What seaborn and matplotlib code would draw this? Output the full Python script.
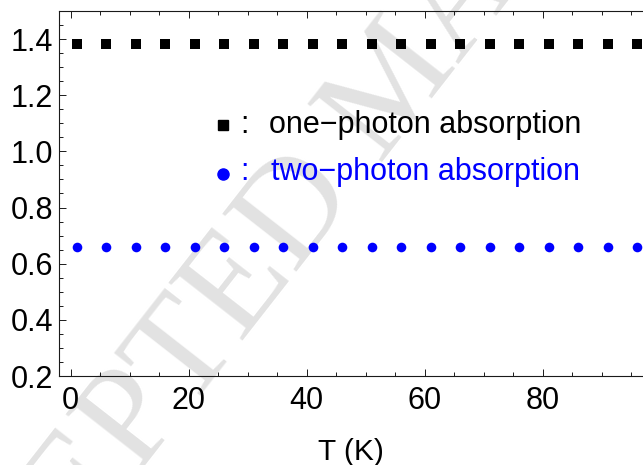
import matplotlib
matplotlib.use("Agg")
import matplotlib.pyplot as plt
import seaborn as sns
import pandas as pd
from matplotlib.ticker import MultipleLocator, FormatStrFormatter

# Temperatures (K) and absorption values for the two processes
temperature = [1, 6, 11, 16, 21, 26, 31, 36, 41, 46,
               51, 56, 61, 66, 71, 76, 81, 86, 91, 96]
one_photon = [1.383, 1.383, 1.383, 1.383, 1.383, 1.383, 1.383, 1.383, 1.383, 1.383,
              1.383, 1.383, 1.383, 1.383, 1.383, 1.383, 1.383, 1.383, 1.383, 1.383]
two_photon = [0.659, 0.659, 0.659, 0.659, 0.659, 0.659, 0.659, 0.659, 0.659, 0.659,
              0.659, 0.659, 0.659, 0.659, 0.659, 0.659, 0.659, 0.659, 0.659, 0.659]
series_labels = ["one\u2212photon absorption", "two\u2212photon absorption"]
x_ticks = [0, 20, 40, 60, 80]
y_ticks = [0.2, 0.4, 0.6, 0.8, 1.0, 1.2, 1.4]

df_one = pd.DataFrame({"T": temperature, "value": one_photon})
df_two = pd.DataFrame({"T": temperature, "value": two_photon})

sns.set_theme(style="ticks")
plt.rcParams["font.family"] = ["Liberation Sans", "DejaVu Sans"]

W, H = 643, 465
fig = plt.figure(figsize=(W / 100, H / 100), dpi=100)
ax = fig.add_axes([59 / W, (H - 376) / H, (W - 59) / W, (376 - 11) / H])

sns.scatterplot(data=df_one, x="T", y="value", ax=ax, marker="s", s=42,
                color="black", linewidth=0, zorder=3)
sns.scatterplot(data=df_two, x="T", y="value", ax=ax, marker="o", s=48,
                color="#0000ff", linewidth=0, zorder=3)

ax.set_xlim(-2, 97)
ax.set_ylim(0.2, 1.5)
ax.set_xticks(x_ticks)
ax.set_yticks(y_ticks)
ax.xaxis.set_minor_locator(MultipleLocator(5))
ax.yaxis.set_minor_locator(MultipleLocator(0.05))
ax.yaxis.set_major_formatter(FormatStrFormatter("%.1f"))

axis_color = "#1a1a1a"
for side in ["left", "bottom", "top"]:
    ax.spines[side].set_visible(True)
    ax.spines[side].set_color(axis_color)
    ax.spines[side].set_linewidth(0.8)
ax.spines["right"].set_visible(False)

ax.tick_params(which="both", direction="in", top=True, right=False,
               color=axis_color, width=0.7, labelcolor="black")
ax.tick_params(which="major", length=4.8)
ax.tick_params(which="minor", length=3.0)
ax.tick_params(axis="x", which="major", labelsize=22, pad=7.5)
ax.tick_params(axis="y", which="major", labelsize=22, pad=4.5)

ax.set_xlabel("T (K)", fontsize=21.5, labelpad=15.5, color="black")
ax.set_ylabel("")

# In-plot key
ax.plot([25.8], [1.095], marker="s", markersize=7.4, color="black",
        linestyle="none", zorder=3)
ax.text(29.5, 1.065, ":", fontsize=22, color="black", ha="center", va="baseline")
ax.text(33.6, 1.065, series_labels[0], fontsize=22, color="black",
        ha="left", va="baseline")
ax.plot([25.8], [0.918], marker="o", markersize=8.0, color="#0000ff",
        linestyle="none", zorder=3)
ax.text(29.5, 0.899, ":", fontsize=22, color="#0000ff", ha="center", va="baseline")
ax.text(33.9, 0.899, series_labels[1], fontsize=22, color="#0000ff",
        ha="left", va="baseline")

# Diagonal watermark behind the data
ax.text(398 / W, 1 - 86 / H, "ACCEPTED MANUSCRIPT", transform=fig.transFigure,
        rotation=52, rotation_mode="anchor", fontsize=103,
        family=["Liberation Serif", "DejaVu Serif"],
        color="#e2e2e2", ha="center", va="center",
        clip_on=False, zorder=0.5)

fig.savefig("out.png", dpi=100)
